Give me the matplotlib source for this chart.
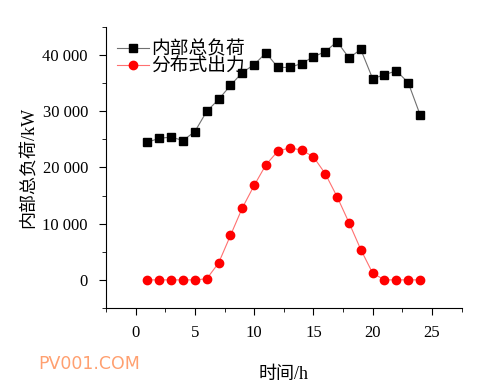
import matplotlib.pyplot as plt
from matplotlib.ticker import FuncFormatter, MultipleLocator

plt.rcParams['font.family'] = ['Liberation Serif', 'Noto Sans CJK SC']

hours = list(range(1, 25))
load = [24500, 25200, 25400, 24800, 26400, 30000, 32100, 34600, 36900, 38300,
        40400, 37800, 37800, 38500, 39700, 40600, 42400, 39500, 41000, 35800,
        36500, 37200, 35100, 29400]
pv = [0, 0, 0, 0, 0, 200, 3000, 7900, 12800, 16800, 20500, 22900, 23500, 23100,
      21900, 18900, 14800, 10200, 5400, 1200, 0, 0, 0, 0]

fig = plt.figure(figsize=(4.85, 3.91), dpi=100)
ax = fig.add_axes([0.2186, 0.2123, 0.733, 0.7187])

ax.plot(hours, load, color='#707070', lw=0.8, marker='s', ms=5.5,
        mfc='black', mec='black', label='内部总负荷')
ax.plot(hours, pv, color='#ff7070', lw=0.8, marker='o', ms=6,
        mfc='red', mec='red', label='分布式出力')

ax.set_xlim(-2.5, 27.5)
ax.set_ylim(-5000, 45000)
ax.xaxis.set_major_locator(MultipleLocator(5))
ax.xaxis.set_minor_locator(MultipleLocator(2.5))
ax.yaxis.set_major_locator(MultipleLocator(10000))
ax.yaxis.set_minor_locator(MultipleLocator(5000))
ax.yaxis.set_major_formatter(FuncFormatter(lambda v, p: f"{int(v):,}".replace(',', ' ')))

for s in ['top', 'right']:
    ax.spines[s].set_visible(False)
ax.tick_params(which='major', direction='out', length=5, labelsize=12, pad=8)
ax.tick_params(which='minor', direction='out', length=3)
ax.tick_params(axis='x', pad=7)

ax.set_xlabel('时间/h', fontsize=13, labelpad=18)
ax.set_ylabel('内部总负荷/kW', fontsize=13, labelpad=4)

ax.legend(loc='upper left', bbox_to_anchor=(0.0, 0.99), frameon=False,
          fontsize=13.5, handlelength=1.7, handletextpad=0.1, borderaxespad=0.2,
          labelspacing=0.0)

fig.text(0.078, 0.055, 'PV001.COM', color='#ffa070', fontsize=12.5,
         family='DejaVu Sans')

fig.savefig('out.png', dpi=100)
